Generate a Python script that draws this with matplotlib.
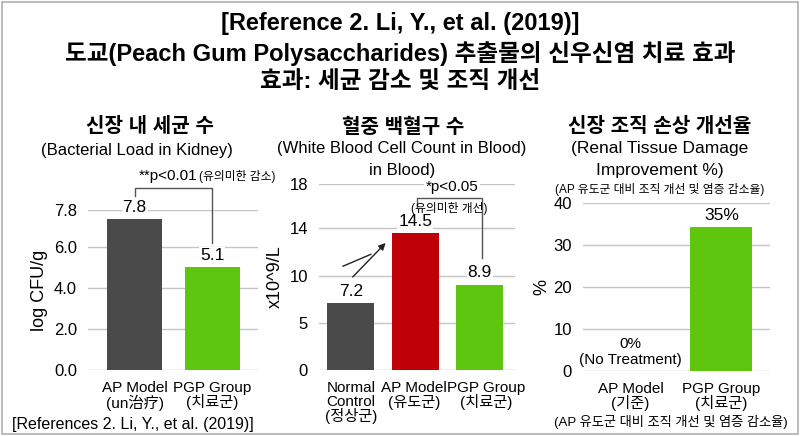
import numpy as np
import matplotlib
matplotlib.use("Agg")
import matplotlib.pyplot as plt
from matplotlib import font_manager
from matplotlib.patches import Rectangle

names = {f.name for f in font_manager.fontManager.ttflist}
NARROW = "Liberation Sans Narrow" if "Liberation Sans Narrow" in names else "Liberation Sans"
BODY = ["Liberation Sans", "Noto Sans CJK KR", "DejaVu Sans"]
COND = [NARROW, "Noto Sans CJK KR", "DejaVu Sans"]
plt.rcParams["font.family"] = BODY

GRAY = "#4a4a4a"
RED = "#c00008"
GREEN = "#5ec60f"
GRID = "#c4c4c4"

# panel 1: bacterial load
p1_labels = ["AP Model\n(un治疗)", "PGP Group\n(치료군)"]
p1_values = [7.35, 5.0]
p1_text = ["7.8", "5.1"]
p1_ticks = [0.0, 2.0, 4.0, 6.0, 7.8]

# panel 2: white blood cells
p2_labels = ["Normal\nControl\n(정상군)", "AP Model\n(유도군)", "PGP Group\n(치료군)"]
p2_values = [7.1, 13.6, 9.05]
p2_text = ["7.2", "14.5", "8.9"]
p2_ticks = [0, 5, 10, 14, 18]
p2_tick_pos = [0, 4.58, 9.13, 13.71, 18]   # tick spacing as drawn

# panel 3: tissue improvement
p3_labels = ["AP Model\n(기준)", "PGP Group\n(치료군)"]
p3_values = [0, 34.4]
p3_text = ["0%\n(No Treatment)", "35%"]
p3_ticks = [0, 10, 20, 30, 40]

fig = plt.figure(figsize=(8, 4.36), dpi=100)
fig.patches.append(Rectangle((0.002, 0.004), 0.996, 0.992, transform=fig.transFigure,
                             fill=False, edgecolor="#b0b0b0", lw=1.2))


def style(ax, ticks, ticklabels, ylim):
    ax.set_ylim(*ylim)
    ax.set_yticks(ticks)
    ax.set_yticklabels(ticklabels, fontsize=12)
    ax.set_xticks([])
    ax.yaxis.grid(True, color=GRID, lw=1)
    ax.set_axisbelow(True)
    for s in ax.spines.values():
        s.set_visible(False)
    ax.tick_params(length=0, pad=8)


def categories(ax, xs, labels, shifts=None):
    shifts = shifts or [0] * len(xs)
    for x, lab, dx in zip(xs, labels, shifts):
        ax.annotate(lab, (x, 0), xycoords=("data", "axes fraction"),
                    xytext=(dx, -8), textcoords="offset points", ha="center",
                    va="top", fontsize=11, linespacing=0.95, annotation_clip=False)


def value_labels(ax, xs, vals, texts, fs=12.5):
    for x, v, t in zip(xs, vals, texts):
        ax.annotate(t, (x, v), xytext=(0, 3), textcoords="offset points",
                    ha="center", va="bottom", fontsize=fs, linespacing=1.15,
                    bbox=dict(boxstyle="square,pad=0.05", fc="white", ec="none"),
                    annotation_clip=False)


# ---- panel 1
ax1 = fig.add_axes([0.110, 0.1514, 0.2125, 0.367])
x1 = np.arange(len(p1_values))
ax1.bar(x1, p1_values, width=0.71, color=[GRAY, GREEN])
ax1.set_xlim(-0.6, 1.59)
style(ax1, p1_ticks, [f"{t:.1f}" for t in p1_ticks], (0, 7.8))
categories(ax1, x1, p1_labels)
ax1.set_ylabel("log CFU/g", fontsize=13, labelpad=4)
value_labels(ax1, x1, p1_values, p1_text)
ax1.plot([0, 0, 1, 1], [8.5, 8.88, 8.88, 6.2], color="#555555", lw=1, clip_on=False)
ax1.text(0.81, 9.1, "**p<0.01", ha="right", va="bottom", fontsize=11)
ax1.text(0.83, 9.1, "(유의미한 감소)", ha="left", va="bottom", fontsize=8.5,
         family=COND)

# ---- panel 2
ax2 = fig.add_axes([0.399, 0.1514, 0.245, 0.4266])
ax2.set_yscale("function", functions=(lambda v: np.interp(v, p2_ticks, p2_tick_pos),
                                       lambda v: np.interp(v, p2_tick_pos, p2_ticks)))
x2 = np.arange(len(p2_values))
ax2.bar(x2, p2_values, width=0.73, color=[GRAY, RED, GREEN])
ax2.set_xlim(-0.49, 2.55)
style(ax2, p2_ticks, [str(t) for t in p2_ticks], (0, 18))
categories(ax2, x2, p2_labels, shifts=[0, -1, 4.5])
ax2.set_ylabel("x10^9/L", fontsize=13, labelpad=4)
value_labels(ax2, x2, p2_values, p2_text)
ax2.plot([1.02, 1.02, 2.04, 2.04], [15.9, 16.7, 16.7, 11.5], color="#555555", lw=1,
         clip_on=False)
ax2.text(1.57, 17.7, "*p<0.05", ha="center", va="center", fontsize=11,
         bbox=dict(boxstyle="square,pad=0.1", fc="white", ec="none"))
ax2.text(1.53, 15.75, "(유의미한 개선)", ha="center", va="center", fontsize=8.5,
         family=COND)
ax2.plot([-0.12, 0.31], [10.8, 11.8], color="#222222", lw=1)
ax2.annotate("", xy=(0.54, 12.76), xytext=(0.03, 9.86),
             arrowprops=dict(arrowstyle="-|>", color="#222222", lw=1,
                             mutation_scale=10, shrinkA=0, shrinkB=0))

# ---- panel 3
ax3 = fig.add_axes([0.729, 0.149, 0.234, 0.385])
x3 = np.arange(len(p3_values))
ax3.bar(x3, p3_values, width=0.68, color=[GRAY, GREEN])
ax3.set_xlim(-0.52, 1.54)
style(ax3, p3_ticks, [str(t) for t in p3_ticks], (0, 40))
categories(ax3, x3, p3_labels)
ax3.set_ylabel("%", fontsize=13, labelpad=2)
value_labels(ax3, x3[:1], p3_values[:1], p3_text[:1], fs=11)
value_labels(ax3, x3[1:], p3_values[1:], p3_text[1:], fs=12.5)

# ---- titles
fig.text(0.5, 0.946, "[Reference 2. Li, Y., et al. (2019)]", ha="center", va="center",
         fontsize=17, fontweight="bold", family=COND)
fig.text(0.5, 0.878, "도교(Peach Gum Polysaccharides) 추출물의 신우신염 치료 효과",
         ha="center", va="center", fontsize=17, fontweight="bold", family=COND)
fig.text(0.5, 0.814, "효과: 세균 감소 및 조직 개선", ha="center", va="center",
         fontsize=17, fontweight="bold", family=COND)

fig.text(150 / 800, 1 - 127 / 436, "신장 내 세균 수", ha="center", va="center",
         fontsize=14.5, fontweight="bold")
fig.text(137 / 800, 1 - 150 / 436, "(Bacterial Load in Kidney)", ha="center",
         va="center", fontsize=12)

fig.text(403 / 800, 1 - 127 / 436, "혈중 백혈구 수", ha="center", va="center",
         fontsize=14.5, fontweight="bold")
fig.text(402 / 800, 1 - 148 / 436, "(White Blood Cell Count in Blood)", ha="center",
         va="center", fontsize=12)
fig.text(402 / 800, 1 - 170 / 436, "in Blood)", ha="center", va="center", fontsize=12)

fig.text(660 / 800, 1 - 127 / 436, "신장 조직 손상 개선율", ha="center", va="center",
         fontsize=14.5, fontweight="bold")
fig.text(660 / 800, 1 - 148 / 436, "(Renal Tissue Damage", ha="center", va="center",
         fontsize=12.5)
fig.text(660 / 800, 1 - 170 / 436, "Improvement %)", ha="center", va="center",
         fontsize=12.5)
fig.text(660 / 800, 1 - 190 / 436, "(AP 유도군 대비 조직 개선 및 염증 감소율)",
         ha="center", va="center", fontsize=8.5, family=COND)
fig.text(671 / 800, 1 - 422 / 436, "(AP 유도군 대비 조직 개선 및 염증 감소율)",
         ha="center", va="center", fontsize=9.5, family=COND)

fig.text(12 / 800, 1 - 424 / 436, "[References 2. Li, Y., et al. (2019)]", ha="left",
         va="center", fontsize=11.5)

fig.savefig("out.png", dpi=100)
